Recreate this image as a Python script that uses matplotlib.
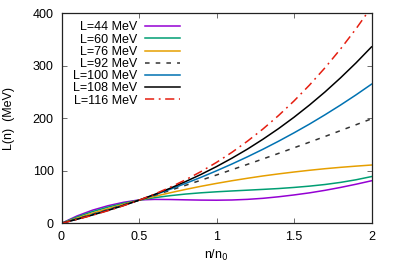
import matplotlib
matplotlib.use("Agg")
import matplotlib.pyplot as plt

# density grid n/n0
n = [0.0, 0.1, 0.2, 0.3, 0.4, 0.5, 0.6, 0.7, 0.8, 0.9, 1.0,
     1.1, 1.2, 1.3, 1.4, 1.5, 1.6, 1.7, 1.8, 1.9, 2.0]

L44 = [0, 14.0, 25.0, 33.5, 40.0, 44.5, 45.5, 45.3, 44.7, 44.2, 44.0,
       44.4, 45.6, 47.6, 50.5, 54.0, 58.0, 62.8, 68.3, 74.4, 81.0]
L60 = [0, 12.0, 22.3, 30.9, 38.1, 44.0, 48.8, 52.6, 55.7, 58.1, 60.0,
       61.6, 63.1, 64.6, 66.2, 68.3, 70.8, 73.9, 77.9, 82.9, 89.0]
L76 = [0, 9.8, 19.2, 27.9, 36.2, 44.0, 51.3, 58.1, 64.5, 70.5, 76.0,
       81.1, 85.8, 90.2, 94.1, 97.7, 101.0, 104.0, 106.6, 108.9, 111.0]
L92 = [0, 8.5, 17.1, 25.9, 34.9, 44.0, 53.3, 62.7, 72.3, 82.1, 92.0,
       102.1, 112.3, 122.6, 133.1, 143.8, 154.5, 165.4, 176.5, 187.7, 199.0]
L100 = [0, 8.0, 16.4, 25.2, 34.4, 44.0, 54.1, 64.7, 75.9, 87.6, 100.0,
        113.0, 126.7, 141.1, 156.3, 172.3, 189.0, 206.7, 225.2, 244.6, 265.0]
L108 = [0, 7.7, 15.8, 24.6, 33.9, 44.0, 54.9, 66.6, 79.4, 93.1, 108.0,
        124.1, 141.4, 160.2, 180.3, 202.0, 225.3, 250.2, 277.0, 305.5, 336.0]
L116 = [0, 7.4, 15.3, 24.0, 33.5, 44.0, 55.6, 68.5, 82.8, 98.5, 116.0,
        135.3, 156.5, 179.7, 205.2, 233.0, 263.3, 296.2, 331.9, 370.4, 412.0]

labels = ["L=44 MeV", "L=60 MeV", "L=76 MeV", "L=92 MeV",
          "L=100 MeV", "L=108 MeV", "L=116 MeV"]
xticks = [0, 0.5, 1, 1.5, 2]
xticklabels = ["0", "0.5", "1", "1.5", "2"]
yticks = [0, 100, 200, 300, 400]

FS = 9
plt.rcParams['font.family'] = ['Liberation Sans', 'DejaVu Sans']
plt.rcParams['font.size'] = FS

W, H = 394, 277
fig = plt.figure(figsize=(W / 100, H / 100), dpi=100)
ax = fig.add_axes([61.5 / W, 1 - 223.3 / H, (371.5 - 61.5) / W, (223.3 - 13.3) / H])

series = [L44, L60, L76, L92, L100, L108, L116]
styles = [
    dict(color="#9400d3", ls="-"),
    dict(color="#009e73", ls="-"),
    dict(color="#e69f00", ls="-"),
    dict(color="#333333", ls=(0, (3, 4))),
    dict(color="#0072b2", ls="-"),
    dict(color="#000000", ls="-"),
    dict(color="#e51e10", ls=(0, (6, 3, 1.2, 3))),
]
for ys, lab, st in zip(series, labels, styles):
    ax.plot(n, ys, lw=1.1, label=lab, **st)

ax.set_xlim(0, 2)
ax.set_ylim(0, 400)
ax.set_xticks(xticks)
ax.set_xticklabels(xticklabels)
ax.set_yticks(yticks)
ax.tick_params(direction="in", top=True, right=True, length=3.6, width=0.6,
               color="#555555", labelsize=FS)
ax.tick_params(axis="x", pad=5.8)
ax.tick_params(axis="y", pad=5.6)
for sp in ax.spines.values():
    sp.set_linewidth(0.9)
    sp.set_color("#222222")

ax.set_xlabel("n/n$_0$", fontsize=FS, labelpad=3.5)
ax.set_ylabel("L(n)  (MeV)", fontsize=FS, labelpad=13)

leg = ax.legend(loc="upper right", bbox_to_anchor=(179.5 / W, 1 - 21.5 / H),
                bbox_transform=fig.transFigure, frameon=False, markerfirst=False,
                handlelength=2.75, handletextpad=0.66, labelspacing=0.015,
                borderpad=0, borderaxespad=0, fontsize=FS)

fig.savefig("out.png", dpi=100)
